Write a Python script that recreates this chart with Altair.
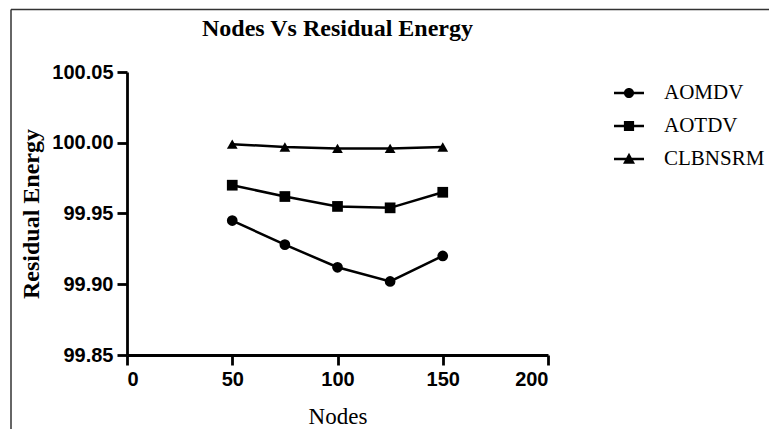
import altair as alt
import pandas as pd

nodes = [50, 75, 100, 125, 150]
aomdv = [99.945, 99.928, 99.912, 99.902, 99.920]
aotdv = [99.970, 99.962, 99.955, 99.954, 99.965]
clbnsrm = [99.999, 99.997, 99.996, 99.996, 99.997]
series = ["AOMDV", "AOTDV", "CLBNSRM"]
x_ticks = [0, 50, 100, 150, 200]
y_ticks = [99.85, 99.90, 99.95, 100.00, 100.05]

rows = []
for name, vals in zip(series, [aomdv, aotdv, clbnsrm]):
    for n, v in zip(nodes, vals):
        rows.append({"Nodes": n, "Energy": v, "Protocol": name})
df = pd.DataFrame(rows)

W, H = 421, 283

x_enc = alt.X(
    "Nodes:Q",
    scale=alt.Scale(domain=[0, 200], nice=False, zero=False),
    axis=alt.Axis(
        values=x_ticks, title="Nodes", format="d",
        titleFont="Liberation Serif", titleFontSize=23, titleFontWeight="normal",
        titlePadding=16,
    ),
)
y_enc = alt.Y(
    "Energy:Q",
    scale=alt.Scale(domain=[99.85, 100.05], nice=False, zero=False),
    axis=alt.Axis(
        values=y_ticks, title="Residual Energy", format=".2f",
        titleFont="Liberation Serif", titleFontSize=24, titleFontWeight="bold",
        titlePadding=8,
    ),
)

base = alt.Chart(df)

lines = base.mark_line(color="black", strokeWidth=2.5).encode(
    x=x_enc, y=y_enc, detail="Protocol:N"
)

points = base.mark_point(filled=True, color="black", opacity=1, size=115).encode(
    x=x_enc,
    y=y_enc,
    shape=alt.Shape(
        "Protocol:N",
        scale=alt.Scale(domain=series, range=["circle", "square", "triangle-up"]),
        legend=None,
    ),
)

# legend glyphs: a short line segment with the series marker on it
legend_paths = [
    "M-1,-0.09H1V0.09H-1Z M-0.34,0A0.34,0.34,0,1,1,0.34,0A0.34,0.34,0,1,1,-0.34,0Z",
    "M-1,-0.09H1V0.09H-1Z M-0.34,-0.34H0.34V0.34H-0.34Z",
    "M-1,-0.09H1V0.09H-1Z M-0.4,0.32L0,-0.42L0.4,0.32Z",
]

legend_layer = base.mark_point(filled=True, color="black", opacity=1).encode(
    x=x_enc,
    y=y_enc,
    shape=alt.Shape(
        "Protocol:N",
        scale=alt.Scale(domain=series, range=legend_paths),
        legend=alt.Legend(
            title=None,
            orient="none",
            legendX=486,
            legendY=5,
            symbolSize=900,
            symbolFillColor="black",
            symbolOpacity=1,
            labelFont="Liberation Serif",
            labelFontSize=21,
            labelColor="black",
            labelOffset=19,
            rowPadding=7,
            padding=0,
        ),
    ),
).transform_filter("false")

border_df = pd.DataFrame({"k": [0]})
border = alt.Chart(border_df).mark_rule(color="#333333", strokeWidth=1.5).encode(
    x=alt.value(-116), x2=alt.value(650), y=alt.value(-62.5)
) + alt.Chart(border_df).mark_rule(color="#333333", strokeWidth=1.5).encode(
    x=alt.value(-116), y=alt.value(-62.5), y2=alt.value(357)
)

chart = (
    alt.layer(lines, points, legend_layer, border)
    .resolve_scale(shape="independent")
    .properties(
        width=W,
        height=H,
        background="white",
        autosize=alt.AutoSizeParams(type="none"),
        padding={"left": 119, "top": 64, "right": 221, "bottom": 74},
        title=alt.TitleParams(
            "Nodes Vs Residual Energy",
            font="Liberation Serif",
            fontSize=24,
            fontWeight="bold",
            color="black",
            anchor="middle",
            offset=0,
            dy=32,
        ),
    )
    .configure_view(stroke=None)
    .configure_axis(
        domainColor="black",
        domainWidth=2.8,
        tickColor="black",
        tickWidth=2.8,
        tickSize=10,
        grid=False,
        labelFont="Liberation Sans",
        labelFontSize=20,
        labelFontWeight="bold",
        labelColor="black",
        labelPadding=4,
        titleColor="black",
    )
)

chart.save("out.html", embed_options={"renderer": "svg", "actions": False})
